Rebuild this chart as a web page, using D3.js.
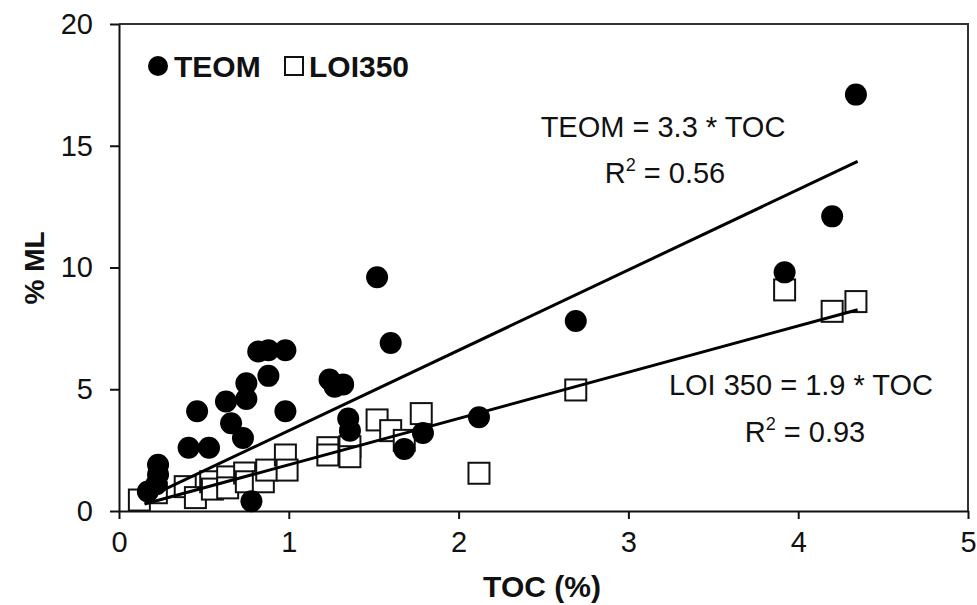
<!DOCTYPE html>
<html>
<head>
<meta charset="utf-8">
<script src="https://cdn.jsdelivr.net/npm/d3@7"></script>
<style>
  body { margin: 0; background: #fff; }
  text { font-family: Arial, "Liberation Sans", sans-serif; fill: #111; }
</style>
</head>
<body>
<svg id="chart" width="977" height="605"></svg>
<script>
// TOC (%) vs % ML for the two methods
const teomToc = [0.23, 0.23, 0.22, 0.17, 0.41, 0.53, 0.46, 0.63, 0.66, 0.73, 0.75, 0.75, 0.88, 0.82, 0.88, 0.98, 0.98, 0.78,
  1.24, 1.32, 1.27, 1.35, 1.36, 1.52, 1.6, 1.68, 1.79, 2.12, 2.69, 3.92, 4.2, 4.34];
const teomMl = [1.9, 1.5, 1.1, 0.8, 2.6, 2.6, 4.1, 4.5, 3.6, 3.0, 4.6, 5.25, 5.55, 6.55, 6.6, 6.6, 4.1, 0.4,
  5.4, 5.2, 5.1, 3.8, 3.3, 9.6, 6.9, 2.55, 3.2, 3.85, 7.8, 9.8, 12.1, 17.1];
const loiToc = [0.12, 0.22, 0.39, 0.45, 0.54, 0.55, 0.64, 0.64, 0.74, 0.75, 0.85, 0.87, 0.98, 0.99,
  1.23, 1.23, 1.36, 1.36, 1.52, 1.6, 1.68, 1.78, 2.12, 2.69, 3.92, 4.2, 4.34];
const loiMl = [0.45, 0.75, 1.0, 0.55, 1.2, 0.9, 1.4, 0.95, 1.56, 1.2, 1.2, 1.68, 2.3, 1.68,
  2.6, 2.3, 2.64, 2.23, 3.74, 3.3, 2.9, 4.0, 1.55, 4.97, 9.08, 8.2, 8.6];
const fits = [["TEOM", 3.3], ["LOI350", 1.9]];
const fitRange = [0.15, 4.35];
const xTicks = [0, 1, 2, 3, 4, 5];
const yTicks = [0, 5, 10, 15, 20];

const plot = { left: 119, right: 968, top: 24, bottom: 511 };
const svg = d3.select("#chart");

const x = d3.scaleLinear().domain([0, 5]).range([plot.left, plot.right]);
const y = d3.scaleLinear().domain([0, 20]).range([plot.bottom, plot.top]);

// frame top / right
svg.append("path")
  .attr("d", `M${plot.left},${plot.top}H${plot.right}V${plot.bottom}`)
  .attr("fill", "none").attr("stroke", "#333").attr("stroke-width", 2);

const xAxis = svg.append("g")
  .attr("transform", `translate(0,${plot.bottom})`)
  .call(d3.axisBottom(x).tickValues(xTicks).tickFormat(d3.format("d"))
    .tickSize(8).tickSizeOuter(0).tickPadding(12));
const yAxis = svg.append("g")
  .attr("transform", `translate(${plot.left},0)`)
  .call(d3.axisLeft(y).tickValues(yTicks).tickFormat(d3.format("d"))
    .tickSize(9).tickSizeOuter(0).tickPadding(17));

[xAxis, yAxis].forEach(a => {
  a.select(".domain").attr("stroke", "#111").attr("stroke-width", 2);
  a.selectAll(".tick line").attr("stroke", "#111").attr("stroke-width", 2);
  a.selectAll(".tick text").style("font-size", "29px")
    .style("font-family", "Arial, 'Liberation Sans', sans-serif").attr("fill", "#333");
});

// markers
svg.append("g").selectAll("rect")
  .data(d3.zip(loiToc, loiMl))
  .join("rect")
  .attr("x", d => x(d[0]) - 10.5)
  .attr("y", d => y(d[1]) - 10.5)
  .attr("width", 21).attr("height", 21)
  .attr("fill", "#fff").attr("stroke", "#111").attr("stroke-width", 2);

svg.append("g").selectAll("circle")
  .data(d3.zip(teomToc, teomMl))
  .join("circle")
  .attr("cx", d => x(d[0]))
  .attr("cy", d => y(d[1]))
  .attr("r", 11)
  .attr("fill", "#000");

// regression lines
svg.append("g").selectAll("line")
  .data(fits)
  .join("line")
  .attr("x1", x(fitRange[0])).attr("x2", x(fitRange[1]))
  .attr("y1", d => y(d[1] * fitRange[0]))
  .attr("y2", d => y(d[1] * fitRange[1]))
  .attr("stroke", "#000").attr("stroke-width", 3);

// legend
svg.append("circle").attr("cx", 158).attr("cy", 66).attr("r", 10).attr("fill", "#000");
svg.append("text").attr("x", 174).attr("y", 77).attr("font-weight", "bold").style("font-size", "30px").text("TEOM");
svg.append("rect").attr("x", 285).attr("y", 57).attr("width", 18).attr("height", 18)
  .attr("fill", "#fff").attr("stroke", "#111").attr("stroke-width", 2);
svg.append("text").attr("x", 309).attr("y", 77).attr("font-weight", "bold").style("font-size", "30px").text("LOI350");

// equations
const eq = (cx, by, txt) => svg.append("text").attr("x", cx).attr("y", by)
  .attr("text-anchor", "middle").style("font-size", "29px").text(txt);
const r2 = (cx, by, val) => {
  const t = svg.append("text").attr("x", cx).attr("y", by)
    .attr("text-anchor", "middle").style("font-size", "29px");
  t.append("tspan").text("R");
  t.append("tspan").attr("dy", -12).style("font-size", "18px").text("2");
  t.append("tspan").attr("dy", 12).text(" = " + val);
};
eq(663, 137, "TEOM = 3.3 * TOC");
r2(665, 183, "0.56");
eq(801, 395, "LOI 350 = 1.9 * TOC");
r2(805, 442, "0.93");

// axis titles
svg.append("text").attr("x", 542).attr("y", 597).attr("text-anchor", "middle")
  .attr("font-weight", "bold").style("font-size", "30px").text("TOC (%)");
svg.append("text").attr("transform", "translate(44,268) rotate(-90)").attr("text-anchor", "middle")
  .attr("font-weight", "bold").style("font-size", "28px").text("% ML");
</script>
</body>
</html>
